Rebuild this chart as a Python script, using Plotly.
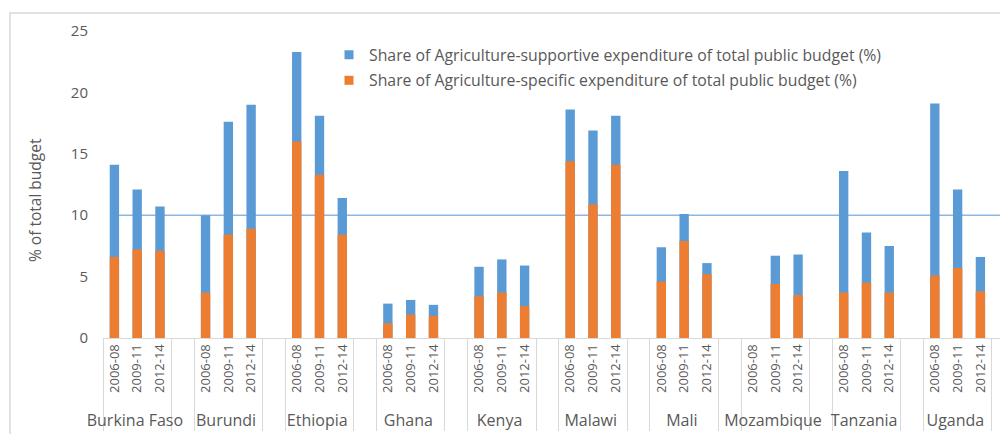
import plotly.graph_objects as go

# ---- data -------------------------------------------------------------
countries = ["Burkina Faso", "Burundi", "Ethiopia", "Ghana", "Kenya",
             "Malawi", "Mali", "Mozambique", "Tanzania", "Uganda"]
periods = ["2006-08", "2009-11", "2012-14"]

# Share of agriculture-supportive expenditure of total public budget (%)
supportive_share = [
    [14.1, 12.1, 10.7],   # Burkina Faso
    [10.0, 17.6, 19.0],   # Burundi
    [23.3, 18.1, 11.4],   # Ethiopia
    [2.8, 3.1, 2.7],      # Ghana
    [5.8, 6.4, 5.9],      # Kenya
    [18.6, 16.9, 18.1],   # Malawi
    [7.4, 10.1, 6.1],     # Mali
    [None, 6.7, 6.8],     # Mozambique
    [13.6, 8.6, 7.5],     # Tanzania
    [19.1, 12.1, 6.6],    # Uganda
]

# Share of agriculture-specific expenditure of total public budget (%)
specific_share = [
    [6.6, 7.2, 7.1],
    [3.7, 8.4, 8.9],
    [16.0, 13.3, 8.4],
    [1.2, 1.9, 1.8],
    [3.4, 3.7, 2.6],
    [14.4, 10.9, 14.1],
    [4.6, 7.9, 5.2],
    [None, 4.4, 3.5],
    [3.7, 4.5, 3.7],
    [5.1, 5.7, 3.8],
]

target_level = 10  # reference level (% of total budget)

y_ticks = [0, 5, 10, 15, 20, 25]

series_names = [
    "Share of Agriculture-supportive expenditure of total public budget (%)",
    "Share of Agriculture-specific expenditure of total public budget (%)",
]

# ---- styling ------------------------------------------------------------
FONT = "Open Sans"
TEXT = "#595959"
BLUE = "#5B9BD5"
ORANGE = "#ED7D31"
LINE = "#8DB7E2"
GRID = "#D9D9D9"

W, H = 1000, 434
M_L, M_R, M_T, M_B = 103, 0, 31, 96
plot_w = W - M_L - M_R
plot_h = H - M_T - M_B
slot_px = 22.79  # width of one category slot
COUNTRY_SIZE = 16


def country_label(name):
    # larger group label, nudged a little further below the period labels
    return (f"<span style='font-size:{COUNTRY_SIZE}px;"
            f"baseline-shift:-7px'>{name}</span>")


# ---- category layout: three periods per country plus a spacer slot -------
outer, inner, sup_vals, spec_vals = [], [], [], []
for i, c in enumerate(countries):
    for j, p in enumerate(periods):
        outer.append(country_label(c))
        inner.append(p)
        sup_vals.append(supportive_share[i][j])
        spec_vals.append(specific_share[i][j])
    outer.append(" " * (i + 1))
    inner.append(" ")
    sup_vals.append(None)
    spec_vals.append(None)

x_cats = [outer, inner]
n_slots = len(inner)

fig = go.Figure()
for vals, color in ((sup_vals, BLUE), (spec_vals, ORANGE)):
    fig.add_trace(go.Bar(
        x=x_cats, y=vals, width=0.41,
        marker=dict(color=color, line=dict(width=0)),
        showlegend=False,
    ))

# legend entries with small square keys
for k, (name, color) in enumerate(zip(series_names, (BLUE, ORANGE))):
    fig.add_trace(go.Scatter(
        x=[[outer[0]], [inner[0]]], y=[None], mode="markers",
        marker=dict(symbol="square", size=9, color=color),
        name=name, legendgroup=f"g{k}", showlegend=True, hoverinfo="skip",
    ))

# reference level drawn behind the bars, from first to last category
fig.add_shape(type="line", xref="x", yref="y",
              x0=0, x1=n_slots - 1, y0=target_level, y1=target_level,
              line=dict(color=LINE, width=1.5), layer="below")

# outer chart frame
fig.add_shape(type="rect", xref="paper", yref="paper",
              x0=(10 - M_L) / plot_w, x1=1.2,
              y0=-1.0, y1=(H - M_B - 13) / plot_h,
              line=dict(color=GRID, width=1.5), fillcolor="rgba(0,0,0,0)",
              layer="below")

# y-axis title
fig.add_annotation(text="% of total budget", xref="paper", yref="paper",
                   x=(35 - M_L) / plot_w, y=(H - M_B - 200) / plot_h,
                   xanchor="center", yanchor="middle",
                   textangle=-90, showarrow=False,
                   font=dict(family=FONT, size=15.5, color=TEXT))

fig.update_layout(
    width=W, height=H,
    margin=dict(l=M_L, r=M_R, t=M_T, b=M_B, pad=0),
    barmode="overlay",
    paper_bgcolor="white", plot_bgcolor="white",
    font=dict(family=FONT, color=TEXT),
    showlegend=True,
    legend=dict(x=(329 - M_L) / plot_w, y=(H - M_B - 38) / plot_h,
                xanchor="left", yanchor="top",
                traceorder="grouped", tracegroupgap=2,
                font=dict(family=FONT, size=15.8, color=TEXT),
                bgcolor="rgba(0,0,0,0)", itemwidth=30),
    xaxis=dict(
        type="multicategory",
        range=[-0.5, -0.5 + plot_w / slot_px],
        tickangle=-90,
        tickfont=dict(family=FONT, size=13, color=TEXT),
        showdividers=True, dividercolor=GRID, dividerwidth=1,
        showline=True, linecolor=GRID, linewidth=1,
        ticks="", showgrid=False, zeroline=False,
    ),
    yaxis=dict(
        range=[0, 25], tickvals=y_ticks,
        tickfont=dict(family=FONT, size=15, color=TEXT),
        showgrid=False, zeroline=False, showline=False,
        ticks="", ticklabelstandoff=14,
    ),
)

fig.write_html("out.html")
